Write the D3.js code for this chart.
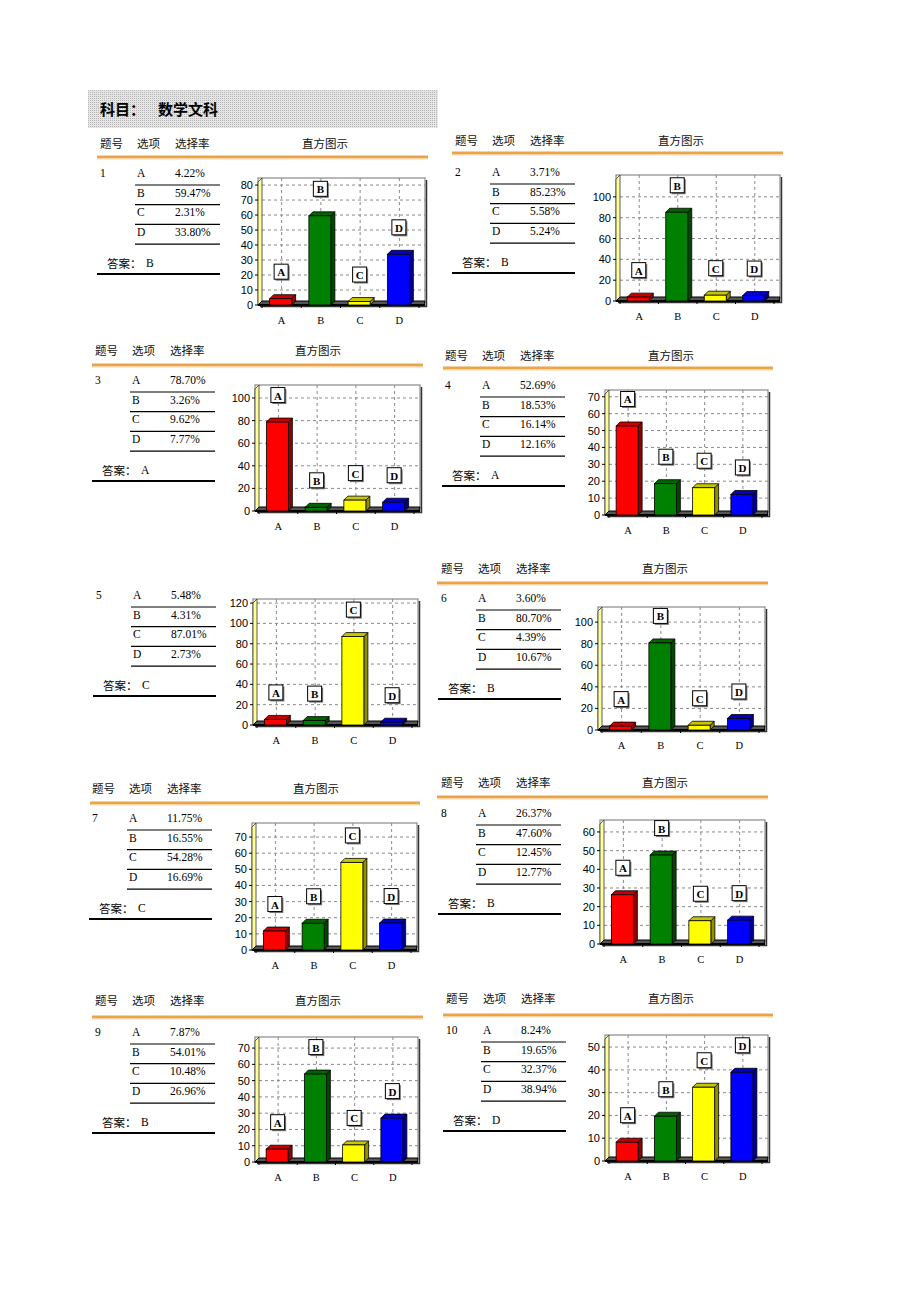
<!DOCTYPE html>
<html><head><meta charset="utf-8">
<script src="https://cdn.jsdelivr.net/npm/d3@7"></script>
<style>body{margin:0;background:#fff} svg{display:block}</style>
</head><body><svg id="c" width="920" height="1302"></svg>
<script>
// ---------- data ----------
const subjectLabel = "科目：";
const subject = "数学文科";
const headerLabels = ["题号","选项","选择率","直方图示"];
const answerLabel = "答案：";
const questionNumbers = [1,2,3,4,5,6,7,8,9,10];
const options = ["A","B","C","D"];
const rates = [
  [4.22,59.47,2.31,33.80],
  [3.71,85.23,5.58,5.24],
  [78.70,3.26,9.62,7.77],
  [52.69,18.53,16.14,12.16],
  [5.48,4.31,87.01,2.73],
  [3.60,80.70,4.39,10.67],
  [11.75,16.55,54.28,16.69],
  [26.37,47.60,12.45,12.77],
  [7.87,54.01,10.48,26.96],
  [8.24,19.65,32.37,38.94]
];
const answers = ["B","B","A","A","C","B","C","B","B","D"];
const yTickMax  = [80,100,100,70,120,100,70,60,70,50];
const yTickStep = [10,20,20,10,20,20,10,10,10,10];
const yDomainMax = [84.7,121,111.5,74,124,114,78.7,66.4,76.8,55.3];
const showHeader = [true,true,true,true,false,true,true,true,true,true];

// ---------- layout / style (not data) ----------
const barColors = ["#ff0000","#008000","#ffff00","#0000ff"];
const layout = [
  {x0:100,hy:143,oy:157,ox:[97,428],hc:325,ry:173,c:{l:258,r:425,t:178,b:305}},
  {x0:455,hy:140,oy:153,ox:[452,783],hc:681,ry:172,c:{l:616,r:780,t:175,b:301}},
  {x0:95, hy:350,oy:365,ox:[92,423], hc:318,ry:380,c:{l:255,r:420,t:385,b:511}},
  {x0:445,hy:355,oy:368,ox:[443,773],hc:671,ry:385,c:{l:605,r:768,t:390,b:515}},
  {x0:96, hy:null,oy:null,ox:null,   hc:null,ry:595,c:{l:253,r:418,t:599,b:725}},
  {x0:441,hy:568,oy:583,ox:[437,768],hc:665,ry:598,c:{l:598,r:765,t:607,b:730}},
  {x0:92, hy:788,oy:803,ox:[90,420], hc:316,ry:818,c:{l:252,r:417,t:823,b:950}},
  {x0:441,hy:782,oy:797,ox:[437,768],hc:665,ry:813,c:{l:600,r:765,t:820,b:944}},
  {x0:95, hy:1000,oy:1017,ox:[92,423],hc:318,ry:1032,c:{l:255,r:418,t:1037,b:1162}},
  {x0:446,hy:998,oy:1015,ox:[443,773],hc:671,ry:1030,c:{l:605,r:768,t:1035,b:1161}}
];
const CJK = "'Noto Sans CJK SC', sans-serif";
const SERIF = "'Liberation Serif', 'Noto Sans CJK SC', serif";
const SANS = "'Liberation Sans', Arial, sans-serif";

const svg = d3.select("#c");
svg.append("rect").attr("width",920).attr("height",1302).attr("fill","#fff");

// dotted pattern for title box
const defs = svg.append("defs");
const pat = defs.append("pattern").attr("id","dots").attr("width",2).attr("height",2).attr("patternUnits","userSpaceOnUse");
pat.append("rect").attr("width",2).attr("height",2).attr("fill","#e4e4e4");
pat.append("rect").attr("width",1).attr("height",1).attr("fill","#b8b8b8");

svg.append("rect").attr("x",88).attr("y",90).attr("width",350).attr("height",38).attr("fill","url(#dots)");
svg.append("text").attr("x",100).attr("y",108).attr("dominant-baseline","central")
  .attr("font-family",CJK).attr("font-size",15).attr("font-weight","bold").text(subjectLabel);
svg.append("text").attr("x",158).attr("y",108).attr("dominant-baseline","central")
  .attr("font-family",CJK).attr("font-size",15).attr("font-weight","bold").text(subject);

const d = 4; // 3D depth

questionNumbers.forEach((qn, i) => {
  const L = layout[i];
  const g = svg.append("g");
  const x0 = L.x0;
  if (showHeader[i]) {
    [[x0,"start"],[x0+37,"start"],[x0+75,"start"],[L.hc,"middle"]].forEach((p,k)=>{
      g.append("text").attr("x",p[0]).attr("y",L.hy).attr("text-anchor",p[1])
        .attr("dominant-baseline","central").attr("font-family",CJK).attr("font-size",11.5)
        .attr("fill","#111").text(headerLabels[k]);
    });
    g.append("rect").attr("x",L.ox[0]).attr("y",L.oy-1.5).attr("width",L.ox[1]-L.ox[0]).attr("height",3).attr("fill","#eba447");
    g.append("rect").attr("x",L.ox[0]).attr("y",L.oy+1.5).attr("width",L.ox[1]-L.ox[0]).attr("height",1).attr("fill","#f7d8a8");
  }
  // table rows
  options.forEach((op, j) => {
    const y = L.ry + j*19.7;
    if (j === 0) g.append("text").attr("x",x0).attr("y",y).attr("dominant-baseline","central")
      .attr("font-family",SERIF).attr("font-size",11.5).text(qn);
    g.append("text").attr("x",x0+37).attr("y",y).attr("dominant-baseline","central")
      .attr("font-family",SERIF).attr("font-size",11.5).text(op);
    g.append("text").attr("x",x0+75).attr("y",y).attr("dominant-baseline","central")
      .attr("font-family",SERIF).attr("font-size",11.5).text(rates[i][j].toFixed(2)+"%");
    g.append("line").attr("x1",x0+35).attr("x2",x0+120).attr("y1",y+12).attr("y2",y+12)
      .attr("stroke","#000").attr("stroke-width",1.2);
  });
  const ay = L.ry + 90;
  g.append("text").attr("x",x0+7).attr("y",ay).attr("dominant-baseline","central")
    .attr("font-family",CJK).attr("font-size",11.5).text(answerLabel);
  g.append("text").attr("x",x0+46).attr("y",ay).attr("dominant-baseline","central")
    .attr("font-family",SERIF).attr("font-size",11.5).text(answers[i]);
  g.append("line").attr("x1",x0-3).attr("x2",x0+120).attr("y1",L.ry+101).attr("y2",L.ry+101)
    .attr("stroke","#000").attr("stroke-width",2.2);

  // ---- chart ----
  const C = L.c;
  const x = d3.scaleBand().domain(options).range([C.l+4, C.r-6]);
  const y = d3.scaleLinear().domain([0, yDomainMax[i]]).range([C.b, C.t]);
  const ticks = d3.range(0, yTickMax[i] + 0.001, yTickStep[i]);
  const cg = svg.append("g");

  // back frame
  cg.append("rect").attr("x",C.l).attr("y",C.t).attr("width",C.r-C.l).attr("height",C.b-C.t)
    .attr("fill","#fff").attr("stroke","#8a8a8a").attr("stroke-width",1.2);
  cg.append("path").attr("d",`M${C.l+2},${C.b+1.5}H${C.r+1.5}V${C.t+2}`)
    .attr("fill","none").attr("stroke","#333").attr("stroke-width",1.5);

  // gridlines
  cg.selectAll(".hg").data(ticks.filter(t=>t>0)).join("line")
    .attr("x1",C.l+d).attr("x2",C.r).attr("y1",t=>y(t)).attr("y2",t=>y(t))
    .attr("stroke","#8a8a8a").attr("stroke-dasharray","3,3").attr("stroke-width",1);
  cg.selectAll(".vg").data(options).join("line")
    .attr("x1",o=>x(o)+x.bandwidth()/2).attr("x2",o=>x(o)+x.bandwidth()/2)
    .attr("y1",C.t).attr("y2",C.b)
    .attr("stroke","#8a8a8a").attr("stroke-dasharray","3,3").attr("stroke-width",1);

  // left wall
  cg.append("path").attr("d",`M${C.l},${C.t+d}L${C.l+d},${C.t}V${C.b-d}L${C.l},${C.b}Z`)
    .attr("fill","#ffff9a").attr("stroke","#333").attr("stroke-width",0.8);
  // floor
  cg.append("path").attr("d",`M${C.l},${C.b}L${C.l+d},${C.b-d}H${C.r}L${C.r-1},${C.b}Z`)
    .attr("fill","#555").attr("stroke","#000").attr("stroke-width",1);
  cg.append("line").attr("x1",C.l).attr("x2",C.r).attr("y1",C.b).attr("y2",C.b)
    .attr("stroke","#000").attr("stroke-width",2);

  // y ticks & labels
  cg.selectAll(".yt").data(ticks).join("line")
    .attr("x1",C.l-3).attr("x2",C.l).attr("y1",t=>y(t)).attr("y2",t=>y(t)).attr("stroke","#000");
  cg.selectAll(".yl").data(ticks).join("text")
    .attr("x",C.l-5).attr("y",t=>y(t)).attr("text-anchor","end").attr("dominant-baseline","central")
    .attr("font-family",SANS).attr("font-size",11).attr("fill","#000").text(t=>t);
  // x ticks
  const bounds = options.map(o=>x(o)).concat([x(options[3])+x.bandwidth()]);
  cg.selectAll(".xt").data(bounds).join("line")
    .attr("x1",b=>b).attr("x2",b=>b).attr("y1",C.b).attr("y2",C.b+3).attr("stroke","#000");
  cg.selectAll(".xl").data(options).join("text")
    .attr("x",o=>x(o)+x.bandwidth()/2).attr("y",C.b+15).attr("text-anchor","middle")
    .attr("dominant-baseline","central").attr("font-family",SERIF).attr("font-size",10.5).text(o=>o);

  // bars
  const w = 22;
  options.forEach((o, j) => {
    const v = rates[i][j];
    const cx = x(o) + x.bandwidth()/2 - 1;
    const col = d3.color(barColors[j]);
    const x1 = cx - w/2, x2 = cx + w/2, yt = y(v), yb = C.b;
    const bg = cg.append("g");
    bg.append("path").attr("d",`M${x2},${yt}L${x2+d},${yt-d}V${yb-d}L${x2},${yb}Z`)
      .attr("fill",col.darker(1.6)).attr("stroke","#000").attr("stroke-width",0.8);
    bg.append("path").attr("d",`M${x1},${yt}L${x1+d},${yt-d}H${x2+d}L${x2},${yt}Z`)
      .attr("fill",col.darker(0.7)).attr("stroke","#000").attr("stroke-width",0.8);
    bg.append("rect").attr("x",x1).attr("y",yt).attr("width",w).attr("height",Math.max(0,yb-yt))
      .attr("fill",col).attr("stroke","#000").attr("stroke-width",0.8);
    // label box
    const lx = cx + 1, ly = yt - 26;
    bg.append("rect").attr("x",lx-6).attr("y",ly-7).attr("width",14).attr("height",15).attr("fill","#777");
    bg.append("rect").attr("x",lx-7.5).attr("y",ly-8.5).attr("width",14).attr("height",15)
      .attr("fill","#fff").attr("stroke","#000").attr("stroke-width",1);
    bg.append("text").attr("x",lx-0.5).attr("y",ly-0.5).attr("text-anchor","middle").attr("dominant-baseline","central")
      .attr("font-family",SERIF).attr("font-size",11).attr("font-weight","bold").text(o);
  });
});
</script>
</body></html>
